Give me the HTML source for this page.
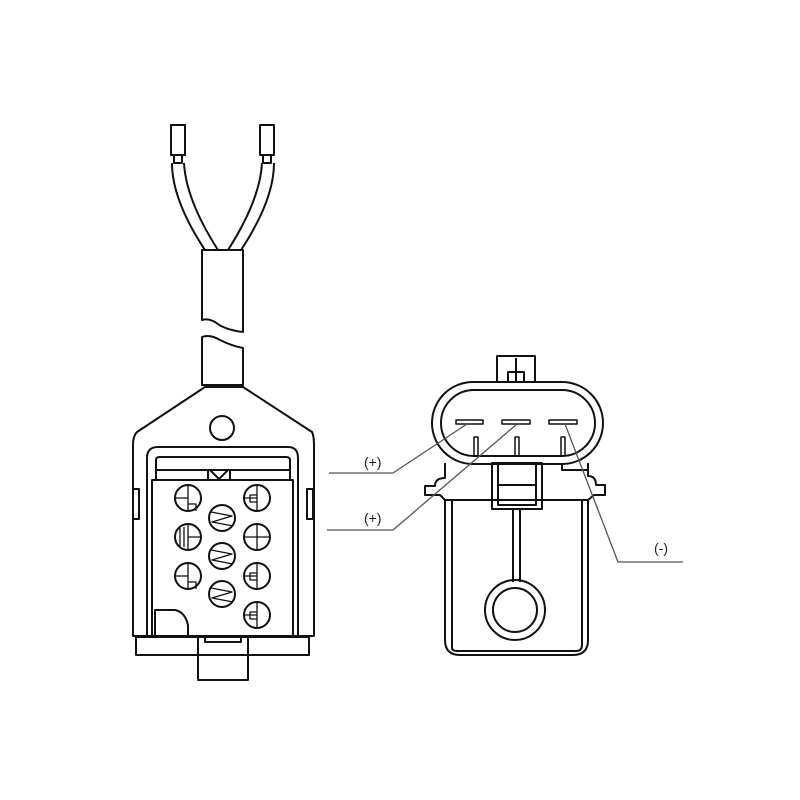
<!DOCTYPE html>
<html><head><meta charset="utf-8"><style>html,body{margin:0;padding:0;background:#fff}svg{display:block}</style></head><body>
<svg width="800" height="800" viewBox="0 0 800 800" xmlns="http://www.w3.org/2000/svg" fill="none" stroke="#111" stroke-width="2" stroke-linejoin="round">
<!-- terminals -->
<rect x="171" y="125" width="14" height="30"/><rect x="260" y="125" width="14" height="30"/>
<rect x="174" y="155" width="8" height="8"/><rect x="263" y="155" width="8" height="8"/>
<!-- wires -->
<path d="M172 163 Q172 200 205 250 M184 163 Q186 200 218 250"/>
<path d="M274 163 Q274 200 241 250 M262 163 Q260 200 228 250"/>
<!-- sheath -->
<path d="M202 250 H243 V332 Q225 330 215 322 Q208 318 202 320 Z"/>
<path d="M202 337 Q210 334 220 340 Q232 346 243 348 V385 H202 Z"/>
<!-- body outer -->
<path d="M205 387 H243 L312 432 Q314 436 314 445 V636 H133 V445 Q133 436 137 432 Z"/>
<circle cx="222" cy="428" r="12"/>
<path d="M147 636 V458 Q147 447 158 447 H288 Q298 447 298 458 V636"/>
<path d="M156 480 V460 Q156 457 160 457 H286 Q290 457 290 460 V480"/>
<line x1="156" y1="470" x2="290" y2="470"/>
<path d="M208 480 V470 H230 V480 M210 470 L219 479 L228 470"/>
<rect x="133" y="489" width="6" height="30"/><rect x="307" y="489" width="6" height="30"/>
<rect x="152" y="480" width="141" height="157"/>
<path d="M155 637 V610 H175 Q185 612 188 625 V637"/>
<rect x="136" y="637" width="173" height="18"/>
<rect x="198" y="637" width="50" height="43"/>
<rect x="205" y="637" width="36" height="5"/>
<!-- holes -->
<g>
<circle cx="188" cy="498" r="13"/><circle cx="257" cy="498" r="13"/>
<circle cx="188" cy="537" r="13"/><circle cx="257" cy="537" r="13"/>
<circle cx="188" cy="576" r="13"/><circle cx="257" cy="576" r="13"/>
<circle cx="257" cy="615" r="13"/>
<circle cx="222" cy="518" r="13"/><circle cx="222" cy="556" r="13"/><circle cx="222" cy="594" r="13"/>
</g>
<g stroke-width="1.3">
<path d="M188 485 V511 M176 498 H188 M188 504 H196 V511"/>
<path d="M257 485 V511 M244 498 H257 M250 495 H257 V502 H250 Z"/>
<path d="M188 524 V550 M180 527 V547 M184 527 V547 M188 537 H200"/>
<path d="M257 524 V550 M244 537 H257 M257 537 H270"/>
<path d="M188 563 V589 M176 576 H188 M188 582 H196 V589"/>
<path d="M257 563 V589 M244 576 H257 M250 573 H257 V580 H250 Z"/>
<path d="M257 602 V628 M244 615 H257 M250 612 H257 V619 H250 Z"/>
<path d="M211 512 L232 516 L212 522 L233 526 M211 550 L232 554 L212 560 L233 564 M211 588 L232 592 L212 598 L233 602"/>
</g>
<!-- right connector -->
<rect x="497" y="356" width="38" height="26"/><path d="M508 382 V372 H524 V382 M516 358 V382"/>
<rect x="432" y="382" width="171" height="82" rx="41"/>
<rect x="441" y="390" width="154" height="66" rx="33"/>
<g stroke-width="1.5">
<rect x="456" y="420" width="27" height="4"/><rect x="502" y="420" width="28" height="4"/><rect x="549" y="420" width="28" height="4"/>
<path d="M474 456 V437 H478 V456 M515 456 V437 H519 V456 M561 456 V437 H565 V456"/>
</g>
<path d="M445 463 V478 Q435 478 435 486 H425 V495 H440 L445 500 V640 Q445 655 460 655 H573 Q588 655 588 640 V500 L594 495 H605 V485 H596 Q596 476 588 476 V463"/>
<line x1="445" y1="500" x2="588" y2="500"/>
<path d="M452 500 V648 Q452 651 458 651 H576 Q582 651 582 645 V500"/>
<path d="M562 463 V470 H588"/>
<rect x="492" y="463" width="50" height="46"/><path d="M498 463 V505 H536 V463 M498 485 H536"/>
<path d="M513 509 V582 M520 509 V582"/>
<circle cx="515" cy="610" r="30"/><circle cx="515" cy="610" r="22"/>
<!-- leaders -->
<g stroke="#555" stroke-width="1.3">
<path d="M329 473 H393 L467 424"/>
<path d="M327 530 H393 L517 424"/>
<path d="M565 424 L618 562 H683"/>
</g>
<g fill="#222" stroke="none" font-family="Liberation Sans, sans-serif" font-size="14">
<text x="364" y="467">(+)</text><text x="364" y="523">(+)</text><text x="654" y="553">(-)</text>
</g>
</svg>
</body></html>
